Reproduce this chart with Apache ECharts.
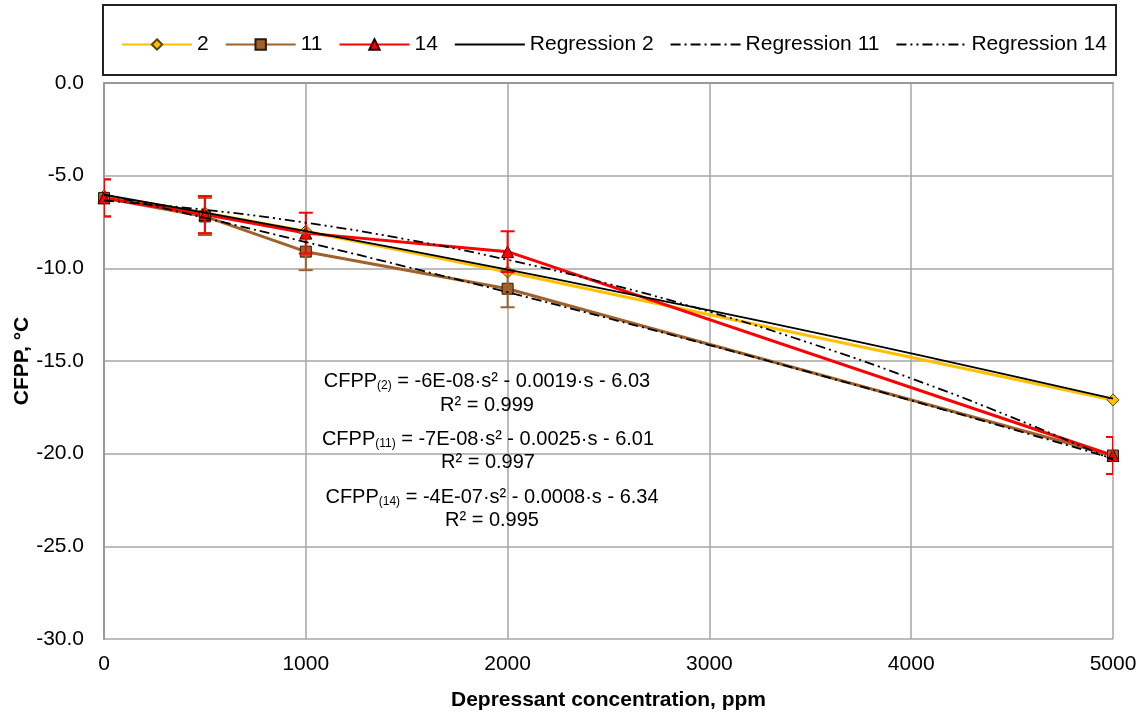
<!DOCTYPE html>
<html>
<head>
<meta charset="utf-8">
<script src="https://cdn.jsdelivr.net/npm/echarts@6/dist/echarts.min.js"></script>
<style>
  html, body { margin: 0; padding: 0; background: #fff; }
  #chart { width: 1142px; height: 714px; }
</style>
</head>
<body>
<div id="chart"></div>
<script>
// measured points (ppm)
var conc = [0, 500, 1000, 2000, 5000];
var cfpp2 = [-6.1, -7.0, -8.0, -10.2, -17.1];
var cfpp11 = [-6.2, -7.2, -9.1, -11.1, -20.1];
var cfpp14 = [-6.2, -7.1, -8.1, -9.1, -20.1];
var err11 = [1, 1, 1, 1, 1];
var err14 = [1, 1, 1.1, 1.1, 1];

// trendlines
var regConc = [0, 500, 1000, 1500, 2000, 2500, 3000, 3500, 4000, 4500, 5000];
var reg2 = [-6.03, -7.00, -7.99, -9.02, -10.07, -11.16, -12.27, -13.42, -14.59, -15.80, -17.03];
var reg11 = [-6.01, -7.28, -8.58, -9.92, -11.29, -12.70, -14.14, -15.62, -17.13, -18.68, -20.26];
var reg14 = [-6.34, -6.84, -7.54, -8.44, -9.54, -10.84, -12.34, -14.04, -15.94, -18.04, -20.34];

var legendNames = ['2', '11', '14', 'Regression 2', 'Regression 11', 'Regression 14'];

var FONT = '"Liberation Sans", Arial, sans-serif';

function pairs (xs, ys) {
  return xs.map(function (x, i) { return [x, ys[i]]; });
}

function errData (ys, es) {
  return conc.map(function (x, i) { return [x, ys[i] - es[i], ys[i] + es[i]]; });
}

function errorBars (color) {
  return function (params, api) {
    var x = api.value(0);
    var lo = api.coord([x, api.value(1)]);
    var hi = api.coord([x, api.value(2)]);
    var cs = params.coordSys;
    // caps get cut at the plot edge, like the original
    var x1 = Math.max(hi[0] - 7, cs.x);
    var x2 = Math.min(hi[0] + 7, cs.x + cs.width);
    var st = { stroke: color, lineWidth: 2 };
    return {
      type: 'group',
      children: [
        { type: 'line', shape: { x1: hi[0], y1: hi[1], x2: lo[0], y2: lo[1] }, style: st },
        { type: 'line', shape: { x1: x1, y1: hi[1], x2: x2, y2: hi[1] }, style: st },
        { type: 'line', shape: { x1: x1, y1: lo[1], x2: x2, y2: lo[1] }, style: st }
      ]
    };
  };
}

var rich = {
  sub: { fontSize: 12, fontFamily: FONT, padding: [9, 0, 0, 0] }
};
function note (text, x, y) {
  return {
    type: 'text',
    x: x,
    y: y,
    style: {
      text: text,
      font: '20px ' + FONT,
      fill: '#000',
      align: 'center',
      verticalAlign: 'middle',
      rich: rich
    },
    z: 10
  };
}

var legendData = legendNames.map(function (n, i) {
  // trendlines: line only, no marker in the key
  return i < 3 ? n : { name: n, itemStyle: { opacity: 0 } };
});

var myChart = echarts.init(document.getElementById('chart'));
myChart.setOption({
  animation: false,
  textStyle: { fontFamily: FONT },
  grid: { left: 104, top: 83, right: 29, bottom: 75, outerBoundsMode: 'none', containLabel: false },
  legend: {
    data: legendData,
    left: 116,
    top: 29,
    itemWidth: 70,
    itemHeight: 13,
    itemGap: 16,
    textStyle: { fontSize: 21, color: '#000', fontFamily: FONT }
  },
  graphic: [
    { type: 'rect', shape: { x: 103, y: 5, width: 1013, height: 70 },
      style: { fill: 'none', stroke: '#222', lineWidth: 2 }, z: 0 },
    note('CFPP{sub|(2)} = -6E-08·s² - 0.0019·s - 6.03', 487, 381),
    note('R² = 0.999', 487, 405),
    note('CFPP{sub|(11)} = -7E-08·s² - 0.0025·s - 6.01', 488, 439),
    note('R² = 0.997', 488, 462),
    note('CFPP{sub|(14)} = -4E-07·s² - 0.0008·s - 6.34', 492, 497),
    note('R² = 0.995', 492, 520)
  ],
  xAxis: {
    type: 'value',
    min: 0,
    max: 5000,
    interval: 1000,
    name: 'Depressant concentration, ppm',
    nameLocation: 'middle',
    nameGap: 51,
    nameMoveOverlap: false,
    nameTextStyle: { fontSize: 21, fontWeight: 'bold', color: '#000' },
    axisLine: { lineStyle: { color: '#999', width: 2 } },
    axisTick: { show: false },
    axisLabel: {
      fontSize: 21,
      color: '#000',
      margin: 15,
      formatter: function (v) { return String(v); }
    },
    splitLine: { lineStyle: { color: '#a6a6a6', width: 1.5 } }
  },
  yAxis: {
    type: 'value',
    min: -30,
    max: 0,
    interval: 5,
    name: 'CFPP, °C',
    nameLocation: 'middle',
    nameGap: 71,
    nameMoveOverlap: false,
    nameTextStyle: { fontSize: 21, fontWeight: 'bold', color: '#000' },
    axisLine: { show: true, lineStyle: { color: '#999', width: 2 } },
    axisTick: { show: false },
    axisLabel: {
      fontSize: 21,
      color: '#000',
      margin: 20,
      formatter: function (v) { return v.toFixed(1); }
    },
    splitLine: { lineStyle: { color: '#a6a6a6', width: 1.5 } }
  },
  series: [
    {
      name: '2', type: 'line', data: pairs(conc, cfpp2), z: 2,
      symbol: 'diamond', symbolSize: 12,
      lineStyle: { color: '#FFC000', width: 3 },
      itemStyle: { color: '#FFC000', borderColor: '#5a4400', borderWidth: 1 }
    },
    {
      name: '11', type: 'line', data: pairs(conc, cfpp11), z: 2,
      symbol: 'rect', symbolSize: 11,
      lineStyle: { color: '#A0612B', width: 3 },
      itemStyle: { color: '#A0612B', borderColor: '#2a1a0a', borderWidth: 1 }
    },
    {
      name: '14', type: 'line', data: pairs(conc, cfpp14), z: 2,
      symbol: 'triangle', symbolSize: 12,
      lineStyle: { color: '#FF0000', width: 3 },
      itemStyle: { color: '#FF0000', borderColor: '#2a0000', borderWidth: 1 }
    },
    {
      type: 'custom', renderItem: errorBars('#A0612B'), data: errData(cfpp11, err11),
      clip: true, z: 3, silent: true
    },
    {
      type: 'custom', renderItem: errorBars('#FF0000'), data: errData(cfpp14, err14),
      clip: true, z: 3, silent: true
    },
    {
      name: 'Regression 2', type: 'line', data: pairs(regConc, reg2), z: 4,
      smooth: true, symbol: 'none',
      lineStyle: { color: '#000', width: 1.8 },
      itemStyle: { color: '#000' }
    },
    {
      name: 'Regression 11', type: 'line', data: pairs(regConc, reg11), z: 4,
      smooth: true, symbol: 'none',
      lineStyle: { color: '#000', width: 1.8, type: [10, 4, 2, 4] },
      itemStyle: { color: '#000' }
    },
    {
      name: 'Regression 14', type: 'line', data: pairs(regConc, reg14), z: 4,
      smooth: true, symbol: 'none',
      lineStyle: { color: '#000', width: 1.8, type: [10, 4, 2, 4, 2, 4] },
      itemStyle: { color: '#000' }
    }
  ]
});
</script>
</body>
</html>
